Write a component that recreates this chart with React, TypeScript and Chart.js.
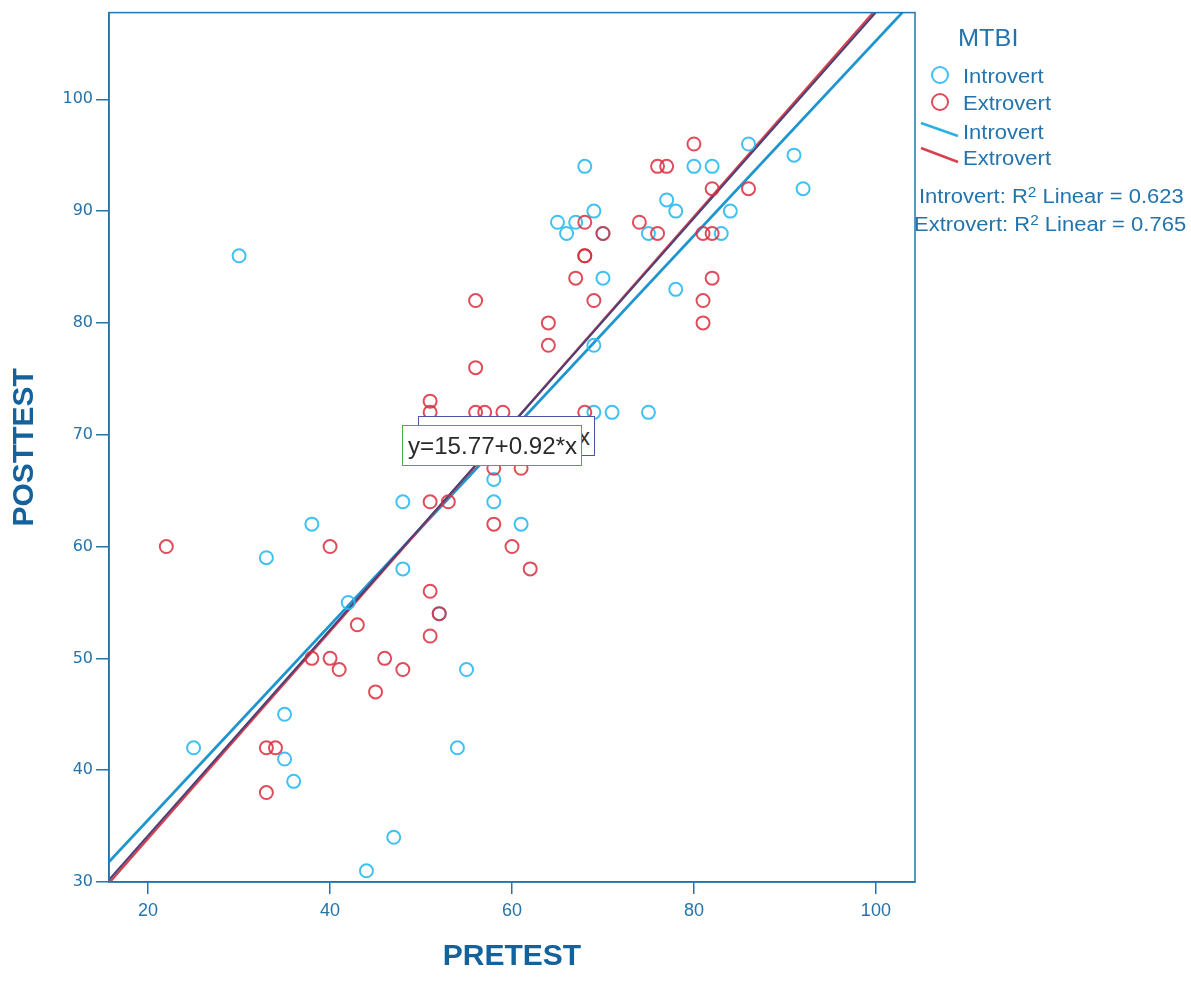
import React, { useEffect, useRef } from "react";
import { Chart, registerables } from "chart.js";

Chart.register(...registerables);

// ---- Data ----
const introPre = [30, 25, 33, 38, 35, 35, 36, 42, 48, 48, 44, 47, 54, 55, 52, 58, 58, 61, 69, 71, 75, 69, 70, 78, 65, 66, 67, 69, 68, 80, 82, 77, 78, 75, 83, 84, 86, 91, 92, 70];
const introPost = [86, 42, 59, 62, 45, 41, 39, 55, 64, 58, 31, 34, 42, 49, 54, 66, 64, 62, 72, 72, 72, 78, 84, 83, 89, 88, 89, 90, 94, 94, 94, 91, 90, 88, 88, 90, 96, 95, 92, 88];

const extroPre = [22, 33, 34, 33, 38, 40, 41, 40, 43, 45, 46, 48, 51, 51, 52, 51, 53, 58, 60, 62, 58, 61, 51, 51, 56, 57, 59, 68, 56, 56, 64, 64, 67, 69, 68, 68, 68, 70, 74, 76, 76, 77, 80, 82, 86, 81, 82, 82, 81, 81];
const extroPost = [60, 42, 42, 38, 50, 50, 49, 60, 53, 47, 50, 49, 52, 56, 54, 64, 64, 62, 60, 58, 67, 67, 72, 73, 72, 72, 72, 72, 76, 82, 80, 78, 84, 82, 86, 86, 89, 88, 89, 88, 94, 94, 96, 92, 92, 88, 88, 84, 82, 80];

// Fit line end points (pretest, posttest)
const introFitX = [15.7, 102.9];
const introFitY = [31.8, 107.75];
const extroFitX = [15.8, 99.7];
const extroFitY = [30.0, 107.75];
const totalFitX = [15.7, 99.98];
const totalFitY = [30.2, 107.75];

const xTicks = [20, 40, 60, 80, 100];
const yTicks = [30, 40, 50, 60, 70, 80, 90, 100];
const xRange = [15.7, 104.3];
const yRange = [30, 107.75];

const legendTitle = "MTBI";
const groupNames = ["Introvert", "Extrovert"];
const r2Values = ["0.623", "0.765"];
const equationFront = "y=15.77+0.92*x";
const equationBack = "y=18.10+0.87*x";

const AXIS = "#2374ad";
const TITLE = "#14629c";
const CYAN = "rgba(44,186,240,0.9)";
const RED = "rgba(218,45,60,0.85)";

const toPts = (xs: number[], ys: number[]) => xs.map((x, i) => ({ x, y: ys[i] }));

export default function App() {
  const ref = useRef<HTMLCanvasElement | null>(null);

  useEffect(() => {
    const canvas = ref.current;
    if (!canvas) return;
    const boxPlugin = {
      id: "boxPlugin",
      afterDraw(chart: any) {
        const { ctx, chartArea } = chart;
        ctx.save();
        ctx.strokeStyle = AXIS;
        ctx.lineWidth = 1.5;
        ctx.strokeRect(chartArea.left, chartArea.top, chartArea.right - chartArea.left, chartArea.bottom - chartArea.top);
        ctx.restore();
      },
    };
    const titleFont = { family: "'Liberation Sans Narrow', 'Liberation Sans', Arial, sans-serif", size: 30, weight: "bold" };
    const chart = new Chart(canvas, {
      type: "scatter",
      data: {
        datasets: [
          {
            label: "Introvert fit",
            data: toPts(introFitX, introFitY),
            showLine: true,
            borderColor: "#1f95cf",
            borderWidth: 2.8,
            pointRadius: 0,
            order: 5,
          },
          {
            label: "Extrovert fit",
            data: toPts(extroFitX, extroFitY),
            showLine: true,
            borderColor: "#d8404e",
            borderWidth: 2.4,
            pointRadius: 0,
            order: 4,
          },
          {
            label: "Total fit",
            data: toPts(totalFitX, totalFitY),
            showLine: true,
            borderColor: "#4a4178",
            borderWidth: 2,
            pointRadius: 0,
            order: 3,
          },
          {
            label: "Introvert",
            data: toPts(introPre, introPost),
            pointStyle: "circle",
            pointRadius: 6.5,
            borderWidth: 2,
            borderColor: CYAN,
            backgroundColor: "rgba(0,0,0,0)",
            order: 2,
          },
          {
            label: "Extrovert",
            data: toPts(extroPre, extroPost),
            pointStyle: "circle",
            pointRadius: 6.5,
            borderWidth: 2,
            borderColor: RED,
            backgroundColor: "rgba(0,0,0,0)",
            order: 1,
          },
        ],
      },
      options: {
        responsive: false,
        animation: false,
        devicePixelRatio: 1,
        layout: { padding: { left: 0, right: 276, top: 10, bottom: 0 } },
        plugins: {
          legend: { display: false },
          tooltip: { enabled: false },
        },
        scales: {
          x: {
            type: "linear",
            min: xRange[0],
            max: xRange[1],
            afterBuildTicks: (s: any) => {
              s.ticks = xTicks.map((v) => ({ value: v }));
            },
            afterFit: (s: any) => {
              s.height = 101;
            },
            grid: {
              display: true,
              drawOnChartArea: false,
              drawTicks: true,
              tickLength: 12,
              color: AXIS,
              lineWidth: 1.5,
            },
            border: { display: true, color: AXIS, width: 1.5 },
            ticks: {
              color: AXIS,
              padding: 6,
              maxRotation: 0,
              font: { family: "'Liberation Sans Narrow', 'Liberation Sans', Arial, sans-serif", size: 18 },
            },
            title: {
              display: true,
              text: "PRETEST",
              color: TITLE,
              padding: { top: 0, bottom: 8 },
              font: titleFont,
            },
          },
          y: {
            type: "linear",
            min: yRange[0],
            max: yRange[1],
            afterBuildTicks: (s: any) => {
              s.ticks = yTicks.map((v) => ({ value: v }));
            },
            afterFit: (s: any) => {
              s.width = 109;
            },
            grid: {
              display: true,
              drawOnChartArea: false,
              drawTicks: true,
              tickLength: 13,
              color: AXIS,
              lineWidth: 1.5,
            },
            border: { display: true, color: AXIS, width: 1.5 },
            ticks: {
              color: AXIS,
              padding: 3,
              font: { family: "'DejaVu Sans', sans-serif", size: 16 },
            },
            title: {
              display: true,
              text: "POSTTEST",
              color: TITLE,
              padding: { top: 7, bottom: 0 },
              font: titleFont,
            },
          },
        },
      },
      plugins: [boxPlugin],
    } as any);
    return () => chart.destroy();
  }, []);

  const txt: React.CSSProperties = {
    position: "absolute",
    fontFamily: "'Liberation Sans', Arial, sans-serif",
    color: AXIS,
    whiteSpace: "nowrap",
    lineHeight: 1,
  };
  const stretch: React.CSSProperties = { transform: "scaleX(1.1)", transformOrigin: "left center" };
  const sup: React.CSSProperties = { fontSize: 14, verticalAlign: "6px", lineHeight: 0 };

  return (
    <div style={{ position: "absolute", left: 0, top: 0, width: 1191, height: 983, background: "#fff" }}>
      <canvas ref={ref} width={1191} height={983} style={{ position: "absolute", left: 0, top: 0, width: 1191, height: 983 }} />

      {/* Equation boxes */}
      <div
        style={{
          position: "absolute",
          left: 418,
          top: 416,
          width: 177,
          height: 40,
          border: "1.5px solid #4a55a8",
          background: "#fff",
          boxSizing: "border-box",
          overflow: "hidden",
        }}
      >
        <div style={{ ...txt, right: 4, top: 9, fontSize: 23, color: "#333" }}>{equationBack}</div>
      </div>
      <div
        style={{
          position: "absolute",
          left: 402,
          top: 425,
          width: 180,
          height: 41,
          border: "1.5px solid #3cb44b",
          background: "#fff",
          boxSizing: "border-box",
        }}
      >
        <div style={{ ...txt, left: 5, top: 9, fontSize: 23, color: "#2a2a2a", transform: "scaleX(1.05)", transformOrigin: "left center" }}>
          {equationFront}
        </div>
      </div>

      {/* Legend */}
      <div style={{ ...txt, ...stretch, left: 958, top: 27, fontSize: 23 }}>{legendTitle}</div>
      <svg style={{ position: "absolute", left: 910, top: 60, overflow: "visible" }} width={60} height={110}>
        <circle cx={30} cy={15} r={8} fill="none" stroke={CYAN} strokeWidth={2} />
        <circle cx={30} cy={42} r={8} fill="none" stroke={RED} strokeWidth={2} />
        <line x1={11} y1={63} x2={48} y2={76} stroke="#2ab0e6" strokeWidth={2.5} />
        <line x1={11} y1={88} x2={48} y2={102} stroke="#d8404e" strokeWidth={2.5} />
      </svg>
      <div style={{ ...txt, ...stretch, left: 963, top: 66, fontSize: 20 }}>{groupNames[0]}</div>
      <div style={{ ...txt, ...stretch, left: 963, top: 93, fontSize: 20 }}>{groupNames[1]}</div>
      <div style={{ ...txt, ...stretch, left: 963, top: 122, fontSize: 20 }}>{groupNames[0]}</div>
      <div style={{ ...txt, ...stretch, left: 963, top: 148, fontSize: 20 }}>{groupNames[1]}</div>

      <div style={{ ...txt, ...stretch, left: 919, top: 186, fontSize: 20 }}>
        {groupNames[0]}: R<sup style={sup}>2</sup> Linear = {r2Values[0]}
      </div>
      <div style={{ ...txt, ...stretch, left: 914, top: 214, fontSize: 20 }}>
        {groupNames[1]}: R<sup style={sup}>2</sup> Linear = {r2Values[1]}
      </div>
    </div>
  );
}
